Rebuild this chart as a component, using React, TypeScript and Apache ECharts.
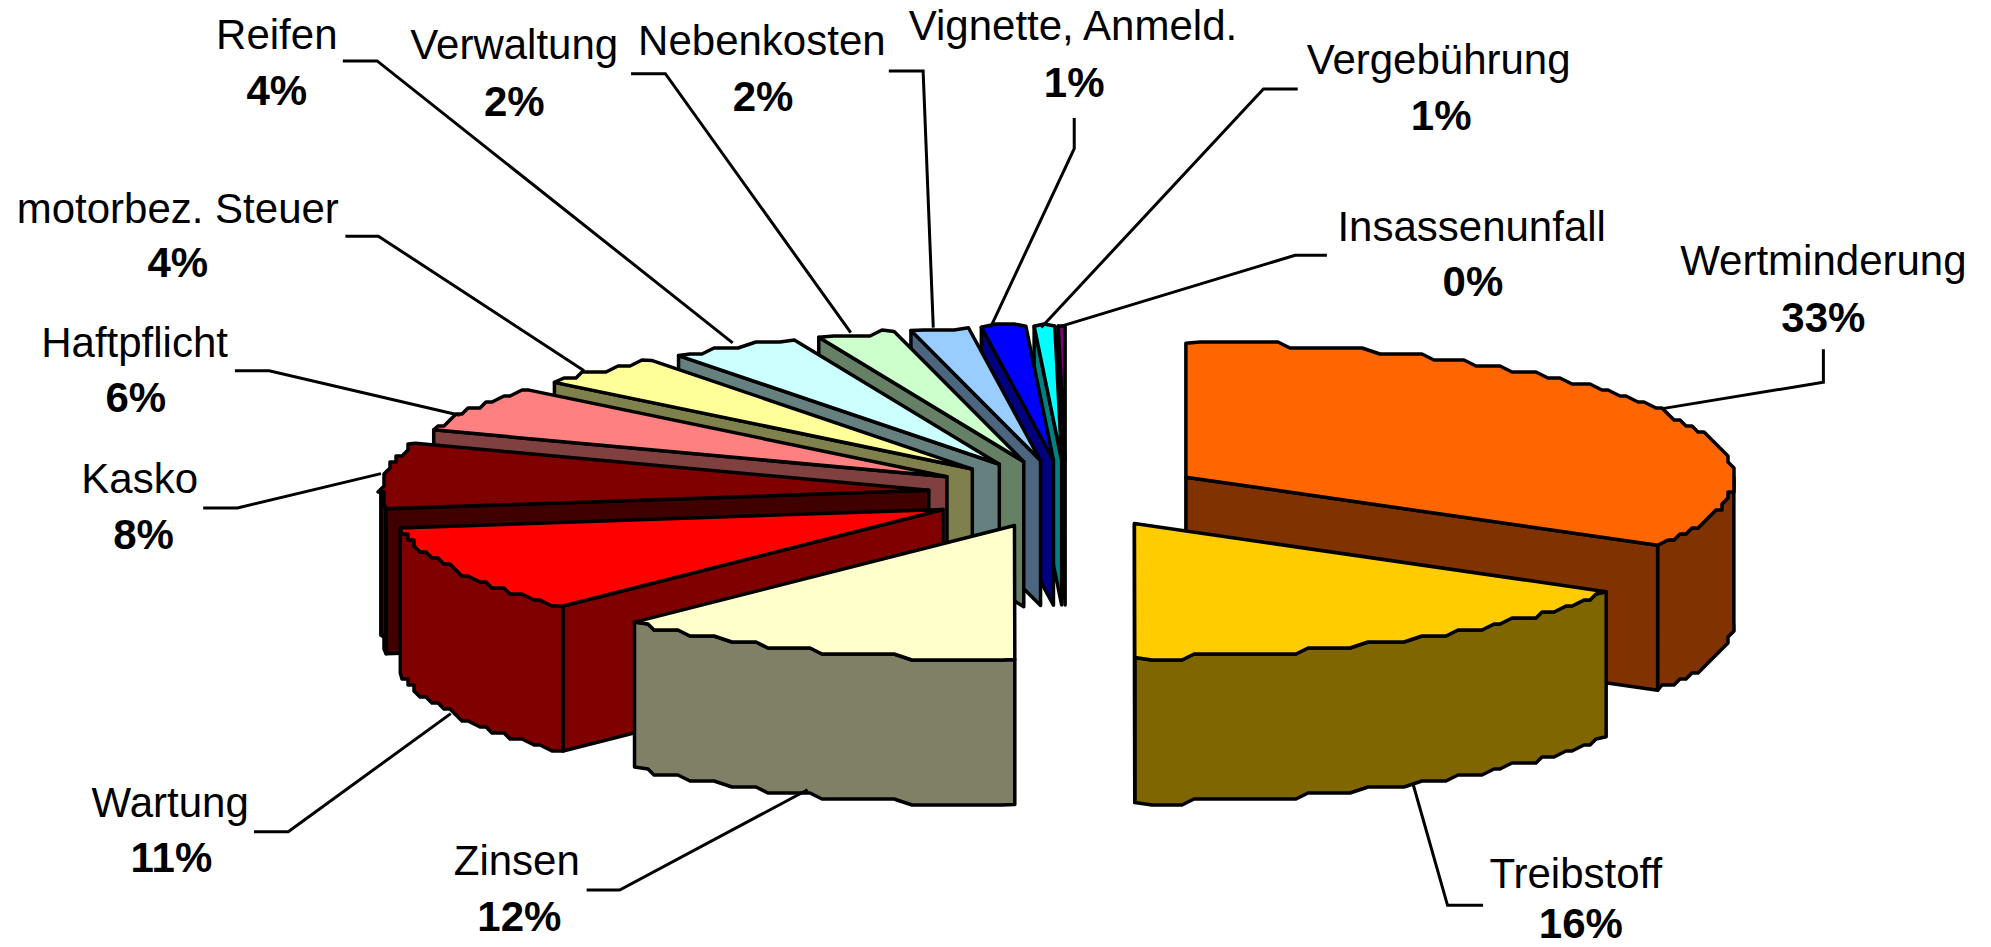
import React, { useEffect, useRef } from "react";
import * as echarts from "echarts";

const names = ["Wertminderung","Treibstoff","Zinsen","Wartung","Kasko","Haftpflicht","motorbez. Steuer","Reifen","Verwaltung","Nebenkosten","Vignette, Anmeld.","Vergebührung","Insassenunfall"];
const values = [33.49,16.49,12.2,10.6,7.9,5.5,3.85,3.85,2.3,1.7,1.3,0.6,0.2];
const topColors = ["#FF6600","#FFCC00","#FFFFCC","#FF0000","#800000","#FF8080","#FFFF99","#CCFFFF","#CCFFCC","#99CCFF","#0000FF","#00FFFF","#800080"];
const sideColors = ["#803300","#806600","#808066","#800000","#400000","#804040","#80804C","#668080","#668066","#4D6680","#000080","#008080","#400040"];
// painter's order: back slices first, front slices last
const drawOrder = [12,11,10,9,8,7,6,5,4,3,2,0,1];

const S = 1991 / 1568;
// label layout, in shrunk-reference units: name centre, percent centre, leader polyline
const labelLayout: number[][][] = [
  [[1436,205],[1436,250],[1436,275],[1436,301],[1308,322]],
  [[1241,688],[1245,727],[1168,713],[1140,713],[1113,618]],
  [[407,678],[409,722],[462,701],[488,701],[636,622]],
  [[134,632],[135,675],[200,655],[227,655],[355,562]],
  [[110,377],[113,421],[160,400],[187,400],[300,373]],
  [[106,270],[107,313],[185,292],[212,292],[362,327]],
  [[140,164],[140,207],[272,186],[298,186],[460,292]],
  [[218,27],[218,71],[270,48],[297,48],[577,270]],
  [[405,35],[405,80],[497,58],[524,58],[670,262]],
  [[600,32],[601,76],[700,56],[727,56],[735,258]],
  [[845,20],[846,65],[846,93],[846,117],[780,258]],
  [[1133,47],[1135,91],[1022,70],[995,70],[820,258]],
  [[1159,178],[1160,222],[1045,201],[1020,201],[832,258]],
];

const CX = 1066, CY = 494, EX = 138, EY = 34, RX = 548, RY = 134, DEPTH = 145;
const GRID = 6;
const FONT = '"Liberation Sans", Arial, sans-serif';

const total = values.reduce((a, b) => a + b, 0);
const cum: number[] = [];
values.reduce((a, v, i) => { cum[i] = a; return a + v; }, 0);

function sliceGeom(i: number) {
  const a0 = (cum[i] / total) * 360;
  const a1 = ((cum[i] + values[i]) / total) * 360;
  const mid = ((a0 + a1) / 2) * Math.PI / 180;
  const ax = CX + EX * Math.sin(mid);
  const ay = CY - EY * Math.cos(mid);
  const pt = (deg: number): number[] => {
    const r = deg * Math.PI / 180;
    return [ax + RX * Math.sin(r), ay - RY * Math.cos(r)];
  };
  // the reference's arcs are coarse, stair-stepped outlines: sample them on a pixel grid
  const arc = (from: number, to: number): number[][] => {
    const n = Math.max(1, Math.ceil((to - from) / 1.6));
    const out: number[][] = [];
    for (let k = 0; k <= n; k++) {
      const p = pt(from + ((to - from) * k) / n);
      out.push(k === 0 || k === n ? p : [Math.round(p[0] / GRID) * GRID, Math.round(p[1] / GRID) * GRID]);
    }
    return out;
  };
  return { a0, a1, ax, ay, pt, arc };
}

const lineStyle = (fill: string) => ({ fill, stroke: "#000", lineWidth: 3.5, lineJoin: "round" });

function renderSlice(_p: any, api: any) {
  const i = api.value(0);
  const { a0, a1, ax, ay, pt, arc } = sliceGeom(i);
  const children: any[] = [];
  const from = Math.max(a0, 90), to = Math.min(a1, 270);
  if (to > from) {
    const top = arc(from, to);
    const bottom = top.map((p) => [p[0], p[1] + DEPTH]).reverse();
    children.push({ type: "polygon", shape: { points: [...top, ...bottom] }, style: lineStyle(sideColors[i]) });
  }
  const edge = a0 > 180 ? a0 : a1 < 180 ? a1 : null;
  if (edge !== null) {
    const e = pt(edge);
    children.push({ type: "polygon", shape: { points: [e, [ax, ay], [ax, ay + DEPTH], [e[0], e[1] + DEPTH]] }, style: lineStyle(sideColors[i]) });
  }
  children.push({ type: "polygon", shape: { points: [[ax, ay], ...arc(a0, a1)] }, style: lineStyle(topColors[i]) });
  return { type: "group", children };
}

function renderLabel(_p: any, api: any) {
  const i = api.value(0);
  const l = labelLayout[i];
  const pct = Math.round((values[i] / total) * 100) + "%";
  const text = (t: string, p: number[], weight: string) => ({
    type: "text",
    style: {
      text: t, x: p[0] * S, y: p[1] * S, fill: "#000",
      font: `${weight} 42px ${FONT}`,
      align: "center", verticalAlign: "middle", textAlign: "center", textVerticalAlign: "middle",
    },
  });
  return {
    type: "group",
    children: [
      { type: "polyline", shape: { points: l.slice(2).map((p) => [p[0] * S, p[1] * S]) }, style: { fill: "none", stroke: "#000", lineWidth: 3 } },
      text(names[i], l[0], "normal"),
      text(pct, l[1], "bold"),
    ],
  };
}

export default function App() {
  const ref = useRef<HTMLDivElement>(null);
  useEffect(() => {
    const chart = echarts.init(ref.current!, undefined, { renderer: "svg" });
    chart.setOption({
      animation: false,
      backgroundColor: "#fff",
      series: [
        { type: "custom", coordinateSystem: "none", silent: true, renderItem: renderSlice, data: drawOrder.map((i) => [i, values[i]]), clip: false },
        { type: "custom", coordinateSystem: "none", silent: true, renderItem: renderLabel, data: names.map((n, i) => [i, values[i]]), z: 3 },
      ],
    });
    return () => chart.dispose();
  }, []);
  return <div ref={ref} style={{ position: "absolute", left: 0, top: 0, width: 1991, height: 947 }} />;
}
